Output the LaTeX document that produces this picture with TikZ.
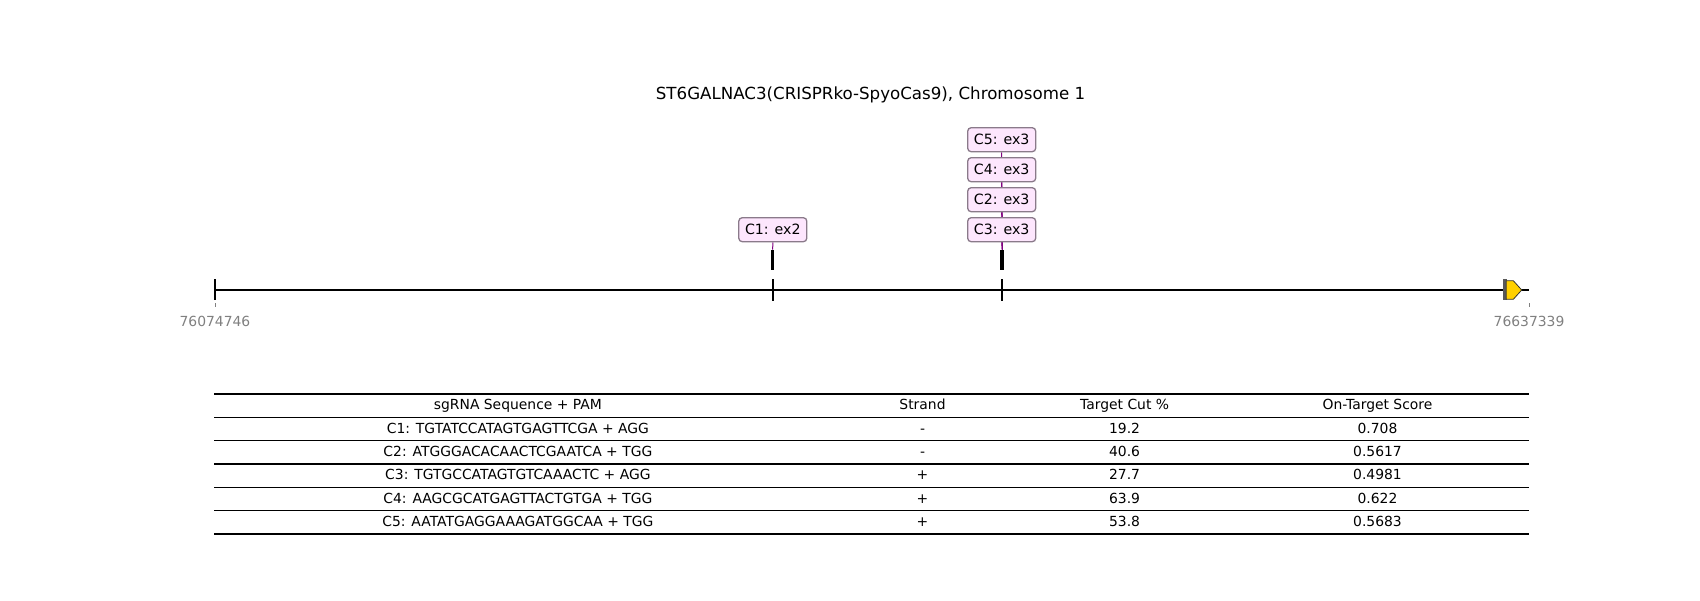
\documentclass[tikz,border=0pt]{standalone}
\usepackage{fontspec}
\setmainfont{DejaVu Sans}
\usetikzlibrary{backgrounds}
\definecolor{labelfill}{HTML}{FDE6FD}
\definecolor{labeledge}{HTML}{8A7A8A}
\definecolor{leader}{HTML}{800080}
\definecolor{tickgray}{HTML}{808080}
\definecolor{genefill}{HTML}{FFD000}
\begin{document}
\begin{tikzpicture}[x=0.72pt,y=-0.72pt,
  px/.style={line width=#1*0.72pt},
  cutlabel/.style={draw=labeledge, fill=labelfill, rounded corners=2.5pt, px=1.3,
    minimum width=48.96pt, minimum height=17.28pt, inner sep=0pt,
    font=\fontsize{10.2}{12}\selectfont},
  cutmark/.style={fill=black, minimum width=#1*0.72pt, minimum height=14.4pt, inner sep=0pt},
  poslabel/.style={anchor=base, text=tickgray, font=\fontsize{10}{12}\selectfont},
  cell/.style={anchor=base, font=\fontsize{10}{12}\selectfont},
  rule/.style={px=#1, black}
]
\useasboundingbox (0,0) rectangle (1700,600);

% title
\node[anchor=base, font=\fontsize{12}{14}\selectfont] (title) at (870.5,99.1)
  {ST6GALNAC3(CRISPRko-SpyoCas9), Chromosome 1};

% genomic axis
\coordinate (ax0) at (215,290);
\coordinate (ax1) at (1529,290);
\draw[px=2] (ax0) -- (ax1);
\draw[px=2] (215,279.3) -- (215,300);
\draw[px=2] (772.7,279.3) -- (772.7,300.7);
\draw[px=2] (1002.3,279.3) -- (1002.3,300.7);

% axis ticks and end coordinates
\draw[tickgray, px=1] (215,303) -- (215,307);
\draw[tickgray, px=1] (1529,303) -- (1529,307);
\node[poslabel] (pos0) at (215,326.7) {76074746};
\node[poslabel] (pos1) at (1529,326.7) {76637339};

% gene feature at the right end
\fill[black!65] (1503.3,279.3) rectangle (1506.7,300);
\draw[fill=genefill, draw=black!80, px=0.8] (1506.2,280.7) -- (1513.3,280.7) -- (1521.7,290)
  -- (1513.3,299.3) -- (1506.2,299.3) -- cycle;

% cut site markers
\node[cutmark=3] (m1) at (772.7,260) {};
\node[cutmark=3.8] (m3) at (1002.3,260) {};

% guide labels
\node[cutlabel] (c1) at (772.8,229.7) {C1: ex2};
\node[cutlabel] (c3) at (1001.7,229.7) {C3: ex3};
\node[cutlabel] (c2) at (1001.7,199.7) {C2: ex3};
\node[cutlabel] (c4) at (1001.7,169.7) {C4: ex3};
\node[cutlabel] (c5) at (1001.7,139.7) {C5: ex3};

\begin{pgfonlayer}{background}
  \draw[leader, px=1] (c1.south) -- (m1.north);
  \foreach \g in {c3,c2,c4,c5}
    \draw[leader, px=1] (\g.south) -- (m3.north);
\end{pgfonlayer}

% guide table
\foreach \yy in {394,417.3,440.7,464,487.3,510.7,534}
  \draw[rule=1.4] (214,\yy) -- (1529,\yy);

\foreach \r/\a/\b/\c/\d in {
  0/sgRNA Sequence + PAM/Strand/Target Cut \%/On-Target Score,
  1/C1: TGTATCCATAGTGAGTTCGA + AGG/-/19.2/0.708,
  2/C2: ATGGGACACAACTCGAATCA + TGG/-/40.6/0.5617,
  3/C3: TGTGCCATAGTGTCAAACTC + AGG/+/27.7/0.4981,
  4/C4: AAGCGCATGAGTTACTGTGA + TGG/+/63.9/0.622,
  5/C5: AATATGAGGAAAGATGGCAA + TGG/+/53.8/0.5683}
{
  \pgfmathsetmacro{\yb}{394+23.33*\r+11.67+4}
  \node[cell] (seq\r) at (517.9,\yb) {\a};
  \node[cell] (str\r) at (922.5,\yb) {\b};
  \node[cell] (cut\r) at (1124.6,\yb) {\c};
  \node[cell] (sco\r) at (1377.5,\yb) {\d};
}
\end{tikzpicture}
\end{document}
